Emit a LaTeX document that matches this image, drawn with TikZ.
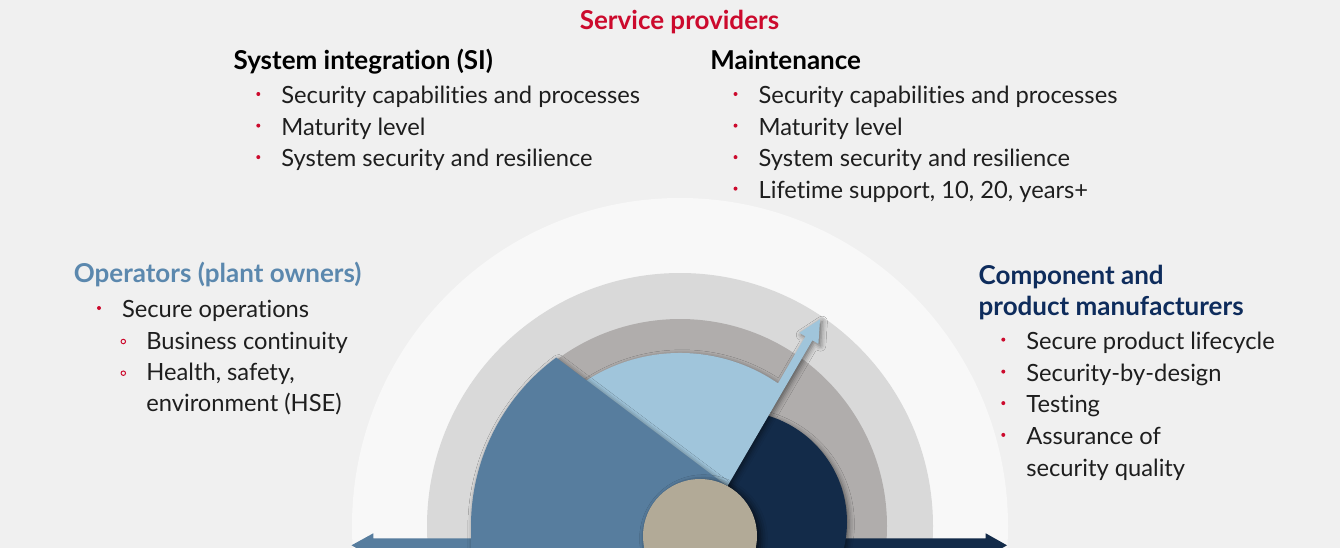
\documentclass[tikz,border=0pt]{standalone}
\usepackage{fontspec}
\setmainfont{Lato}[Ligatures=NoCommon]
\usetikzlibrary{shadows.blur}

\definecolor{bg}{HTML}{F0F0F0}
\definecolor{halo}{HTML}{F8F8F8}
\definecolor{ringmid}{HTML}{D9D9D9}
\definecolor{ringdark}{HTML}{B0ADAC}
\definecolor{skyblue}{HTML}{A0C5DB}
\definecolor{midblue}{HTML}{577D9E}
\definecolor{navy}{HTML}{132B49}
\definecolor{hubgrey}{HTML}{B2AA97}
\definecolor{accent}{HTML}{CC0A2D}
\definecolor{ink}{HTML}{1E1E1E}
\definecolor{opblue}{HTML}{5B88AE}
\definecolor{mfnavy}{HTML}{0E2C5C}

\newcommand\bodysize{\fontsize{13.5}{16}\selectfont}
\newcommand\headsize{\fontsize{14.8}{17}\selectfont}

\begin{document}
\begin{tikzpicture}[x=0.02cm, y=-0.02cm,
  txt/.style={anchor=base west, inner sep=0pt, text=ink, font=\bodysize},
  hd/.style={anchor=base west, inner sep=0pt, font=\headsize\bfseries},
  dot/.style={circle, fill=accent, inner sep=0pt, minimum size=0.08cm},
  subdot/.style={circle, draw=accent, line width=0.55pt, inner sep=0pt, minimum size=0.09cm},
  soft/.style={blur shadow={shadow xshift=1.2pt, shadow yshift=-1.2pt, shadow blur radius=3pt, shadow opacity=50}},
  hubshade/.style={blur shadow={shadow xshift=2pt, shadow yshift=-1.5pt, shadow blur radius=4pt, shadow opacity=70}},
]
\useasboundingbox (0,0) rectangle (1340,548);
\fill[bg] (0,0) rectangle (1340,548);

\begin{scope}
  \clip (0,0) rectangle (1340,548);
  % concentric rings
  \fill[halo] (680,526) circle[radius=328];
  \fill[ringmid] (680,526) circle[radius=253];
  \fill[ringdark] (680,526) circle[radius=207];
  % horizontal double arrow along the base
  \fill[midblue] (700,538.3) -- (373.3,538.3) -- (373.3,533.3) -- (351.5,545.3)
     -- (373.3,557.3) -- (373.3,552.3) -- (700,552.3) -- cycle;
  \fill[navy] (700,538.3) -- (985.7,538.3) -- (985.7,533.3) -- (1007,545.3)
     -- (985.7,557.3) -- (985.7,552.3) -- (700,552.3) -- cycle;
  % manufacturers slice
  \fill[navy, soft] (736,522) circle[radius=111];
  % service provider slice with needle
  \fill[skyblue, soft] (727.5,486) -- (812.4,340.3) -- (818.4,343.8) -- (820,319.3)
     -- (799.4,332.8) -- (805.4,336.3) -- (778,383.4)
     arc[start angle=-55.5, end angle=-130, radius=173] -- (724,484) -- cycle;
  % operators slice
  \fill[midblue, soft] (556.3,357.6) -- (730,488.5) -- (730,560) -- (471,560) -- (471,526)
     arc[start angle=180, end angle=233.7, radius=209] -- cycle;
  % hub
  \fill[hubgrey, hubshade] (700,536) circle[radius=57];
\end{scope}

% service providers
\node[anchor=base, inner sep=0pt, font=\headsize\bfseries, text=accent] (sp) at (679.5,29.3) {Service providers};

\node[hd] (si) at (233.3,69.3) {System integration (SI)};
\node[txt] (si1) at (281,103.3) {Security capabilities and processes};
\node[txt] (si2) at (281,135) {Maturity level};
\node[txt] (si3) at (281,166.5) {System security and resilience};
\node[dot] (sid1) at (258.3,94) {};
\node[dot] (sid2) at (258.3,125.6) {};
\node[dot] (sid3) at (258.3,157.1) {};

\node[hd] (mt) at (710,69.3) {Maintenance};
\node[txt] (mt1) at (758.3,103.3) {Security capabilities and processes};
\node[txt] (mt2) at (758.3,135) {Maturity level};
\node[txt] (mt3) at (758.3,166.5) {System security and resilience};
\node[txt] (mt4) at (758.3,198) {Lifetime support, 10, 20, years+};
\node[dot] (mtd1) at (735.5,94) {};
\node[dot] (mtd2) at (735.5,125.6) {};
\node[dot] (mtd3) at (735.5,157.1) {};
\node[dot] (mtd4) at (735.5,188.6) {};

% operators
\node[hd, text=opblue] (op) at (73.5,282.3) {Operators (plant owners)};
\node[txt] (op1) at (121.7,317.3) {Secure operations};
\node[txt] (op2) at (146,349) {Business continuity};
\node[txt] (op3) at (146,380.7) {Health, safety,};
\node[txt] (op4) at (146,411.7) {environment (HSE)};
\node[dot] (opd1) at (99,308) {};
\node[subdot] (ops2) at (123.3,341.5) {};
\node[subdot] (ops3) at (123.3,373.2) {};

% manufacturers
\node[hd, text=mfnavy] (mf) at (978.3,284.3) {Component and};
\node[hd, text=mfnavy] (mfb) at (978.3,315.5) {product manufacturers};
\node[txt] (mf1) at (1026,349) {Secure product lifecycle};
\node[txt] (mf2) at (1026,381) {Security-by-design};
\node[txt] (mf3) at (1026,412.5) {Testing};
\node[txt] (mf4) at (1026,444.3) {Assurance of};
\node[txt] (mf5) at (1026,476) {security quality};
\node[dot] (mfd1) at (1003.3,339.6) {};
\node[dot] (mfd2) at (1003.3,371.6) {};
\node[dot] (mfd3) at (1003.3,403.1) {};
\node[dot] (mfd4) at (1003.3,434.9) {};
\end{tikzpicture}
\end{document}
